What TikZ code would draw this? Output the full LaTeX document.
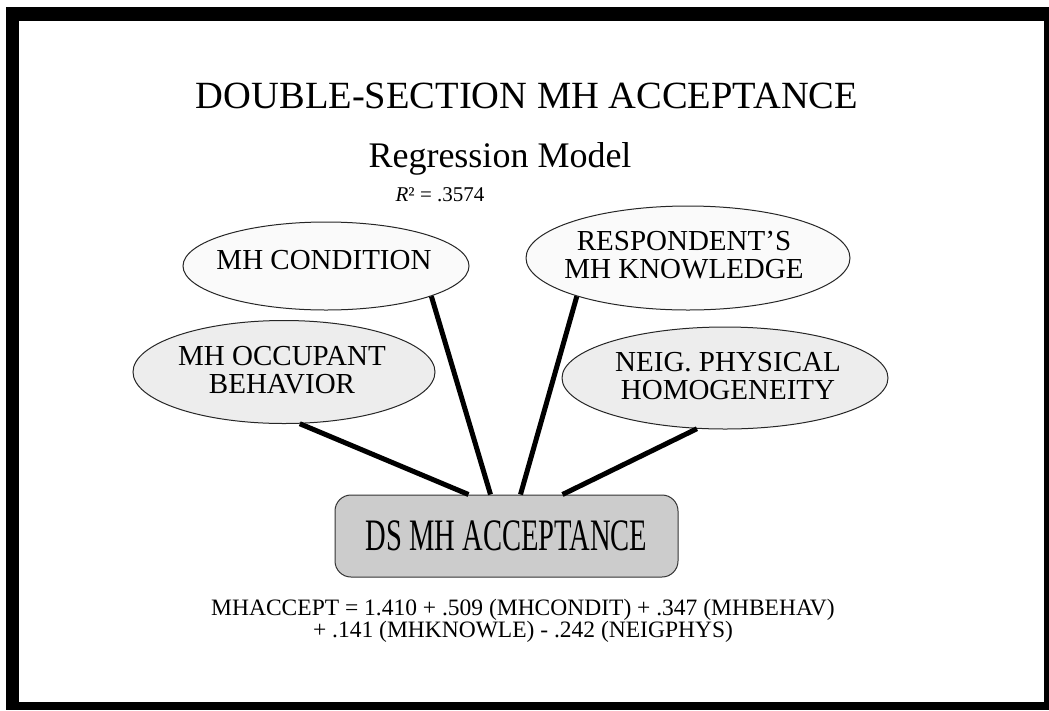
\documentclass[tikz,border=0pt]{standalone}
\usepackage{fontspec}
\usepackage{graphicx}
\setmainfont{Liberation Serif}
\usetikzlibrary{shapes.geometric}
\begin{document}
\begin{tikzpicture}[x=1pt,y=-1pt,
  bubble/.style={draw=black!85, line width=1pt, ellipse, inner sep=0pt},
  bubtext/.style={align=center, inner sep=0pt, font=\fontsize{29}{28}\selectfont},
  heading/.style={anchor=base, inner sep=0pt},
  link/.style={line width=5pt, black},
]
% page and black frame
\useasboundingbox (0,0) rectangle (1049,710);
\fill[white] (0,0) rectangle (1049,710);
\fill[black] (6,7) rectangle (1049,710);
\fill[white] (19,21) rectangle (1044,702);

% headings
\node[heading, font=\fontsize{38.5}{40}\selectfont] (title) at (527,108) {DOUBLE-SECTION MH ACCEPTANCE};
\node[heading, font=\fontsize{36}{38}\selectfont] (sub) at (500,167) {Regression Model};
\node[heading, font=\fontsize{21}{23}\selectfont] (rsq) at (440,201) {\textit{R}² = .3574};

% predictor ellipses
\node[bubble, fill=black!2, minimum width=286pt, minimum height=88pt] (cond) at (326,266) {};
\node[bubble, fill=black!7, minimum width=302pt, minimum height=103pt] (occ) at (284,372) {};
\node[bubble, fill=black!2, minimum width=324pt, minimum height=104pt] (resp) at (688,258) {};
\node[bubble, fill=black!7, minimum width=326pt, minimum height=102pt] (neig) at (725,378) {};

\node[bubtext] (condt) at (324,260) {MH CONDITION};
\node[bubtext] (occt) at (282,370) {MH OCCUPANT\\BEHAVIOR};
\node[bubtext] (respt) at (684,255) {RESPONDENT'S\\MH KNOWLEDGE};
\node[bubtext] (neigt) at (728,376) {NEIG. PHYSICAL\\HOMOGENEITY};

% dependent variable box
\node[draw=black!80, line width=1pt, rounded corners=16pt, fill=black!20,
      minimum width=343pt, minimum height=82pt, inner sep=0pt,
      font=\fontsize{45}{47}\selectfont] (ds) at (506.5,536)
      {\scalebox{0.635}[1]{DS MH ACCEPTANCE}};

% connectors
\draw[link] (occ.287) -- ([xshift=-38pt]ds.north);
\draw[link] (cond.344) -- ([xshift=-16pt]ds.north);
\draw[link] (resp.199) -- ([xshift=14pt]ds.north);
\draw[link] (neig.241) -- ([xshift=56pt]ds.north);

% regression equation (base anchor sits on the last line)
\node[anchor=base, inner sep=0pt, align=center, font=\fontsize{23.5}{21.5}\selectfont] (eq) at (523,637)
  {MHACCEPT = 1.410 + .509 (MHCONDIT) + .347 (MHBEHAV)\\+ .141 (MHKNOWLE) - .242 (NEIGPHYS)};
\end{tikzpicture}
\end{document}
